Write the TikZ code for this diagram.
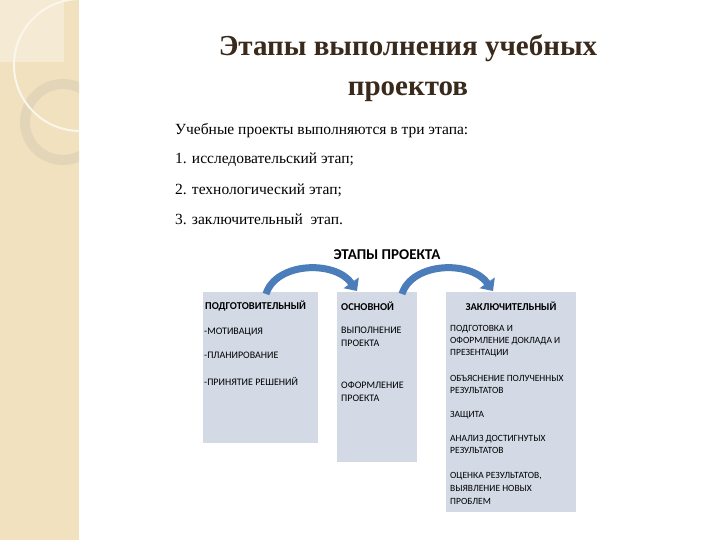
\documentclass[tikz,border=0pt]{standalone}
\usepackage{fontspec}
\setmainfont{Liberation Serif}
\newfontfamily\diag{Carlito}
\usetikzlibrary{arrows.meta}
\definecolor{strip}{HTML}{F1E1BE}
\definecolor{ringc}{HTML}{E2D5B8}
\definecolor{boxc}{HTML}{D3DAE6}
\definecolor{arr}{HTML}{4A7DBA}
\definecolor{ttl}{HTML}{3A2A1C}
\tikzset{x=1pt,y=-1pt,
 stage/.style={fill=boxc,draw=none},
 btxt/.style={font=\diag\fontsize{10}{13}\selectfont,anchor=north west,align=left,inner sep=0},
 bhead/.style={font=\diag\bfseries\fontsize{10.5}{12}\selectfont,inner sep=0},
 body/.style={font=\fontsize{15.5}{18}\selectfont,anchor=west,inner sep=0},
 curved/.style={draw=arr,line width=7pt,-{Triangle[length=10pt,width=18pt]}}}
\begin{document}
\begin{tikzpicture}
\useasboundingbox (0,0) rectangle (720,540);
\fill[white] (0,0) rectangle (720,540);
\begin{scope}
\clip (0,0) rectangle (79,540);
\fill[strip] (0,0) rectangle (79,540);
\fill[white,opacity=0.35] (0,0) rectangle (64,62);
\draw[ringc,line width=10pt] (63,122) circle[radius=38];
\draw[white!70!strip,line width=2pt] (80,65) circle[radius=66];
\end{scope}
\node[font=\bfseries\fontsize{29}{34}\selectfont,text=ttl] (t1) at (408,48) {Этапы выполнения учебных};
\node[font=\bfseries\fontsize{29}{34}\selectfont,text=ttl] (t2) at (408,92) {проектов};
\node[body] (l0) at (175,131) {Учебные проекты выполняются в три этапа:};
\node[body] (l1) at (175,160) {1. исследовательский этап;};
\node[body] (l2) at (175,190) {2. технологический этап;};
\node[body] (l3) at (175,219) {3. заключительный\ \ этап.};
\node[font=\diag\bfseries\fontsize{15}{17}\selectfont] (hd) at (387,255) {ЭТАПЫ ПРОЕКТА};
\fill[stage] (203,292) rectangle (318,443);
\fill[stage] (337,292) rectangle (417,462);
\fill[stage] (446,292) rectangle (576,512);
\coordinate (b1) at (266,294);
\coordinate (b2) at (357,291);
\coordinate (b3) at (402,294);
\coordinate (b4) at (493,291);
\draw[curved] (b1) .. controls (276,262) and (335,260) .. (b2);
\draw[curved] (b3) .. controls (412,262) and (471,260) .. (b4);
\node[bhead,anchor=west] (h1) at (205,306) {ПОДГОТОВИТЕЛЬНЫЙ};
\node[bhead,anchor=west] (h2) at (341,306) {ОСНОВНОЙ};
\node[bhead] (h3) at (511,306) {ЗАКЛЮЧИТЕЛЬНЫЙ};
\node[btxt] (p1) at (204,328) {-МОТИВАЦИЯ};
\node[btxt] (p2) at (204,352) {-ПЛАНИРОВАНИЕ};
\node[btxt] (p3) at (204,377) {-ПРИНЯТИЕ РЕШЕНИЙ};
\node[btxt] (m1) at (341,327) {ВЫПОЛНЕНИЕ\\ПРОЕКТА};
\node[btxt] (m2) at (341,382) {ОФОРМЛЕНИЕ\\ПРОЕКТА};
\node[btxt,font=\diag\fontsize{9.5}{12}\selectfont] (r1) at (450,325) {ПОДГОТОВКА И\\ОФОРМЛЕНИЕ ДОКЛАДА И\\ПРЕЗЕНТАЦИИ};
\node[btxt,font=\diag\fontsize{9.5}{12}\selectfont] (r2) at (450,375) {ОБЪЯСНЕНИЕ ПОЛУЧЕННЫХ\\РЕЗУЛЬТАТОВ};
\node[btxt,font=\diag\fontsize{9.5}{12}\selectfont] (r3) at (450,411) {ЗАЩИТА};
\node[btxt,font=\diag\fontsize{9.5}{12}\selectfont] (r4) at (450,435) {АНАЛИЗ ДОСТИГНУТЫХ\\РЕЗУЛЬТАТОВ};
\node[btxt,font=\diag\fontsize{9.5}{13}\selectfont] (r5) at (450,472) {ОЦЕНКА РЕЗУЛЬТАТОВ,\\ВЫЯВЛЕНИЕ НОВЫХ\\ПРОБЛЕМ};
\end{tikzpicture}
\end{document}
